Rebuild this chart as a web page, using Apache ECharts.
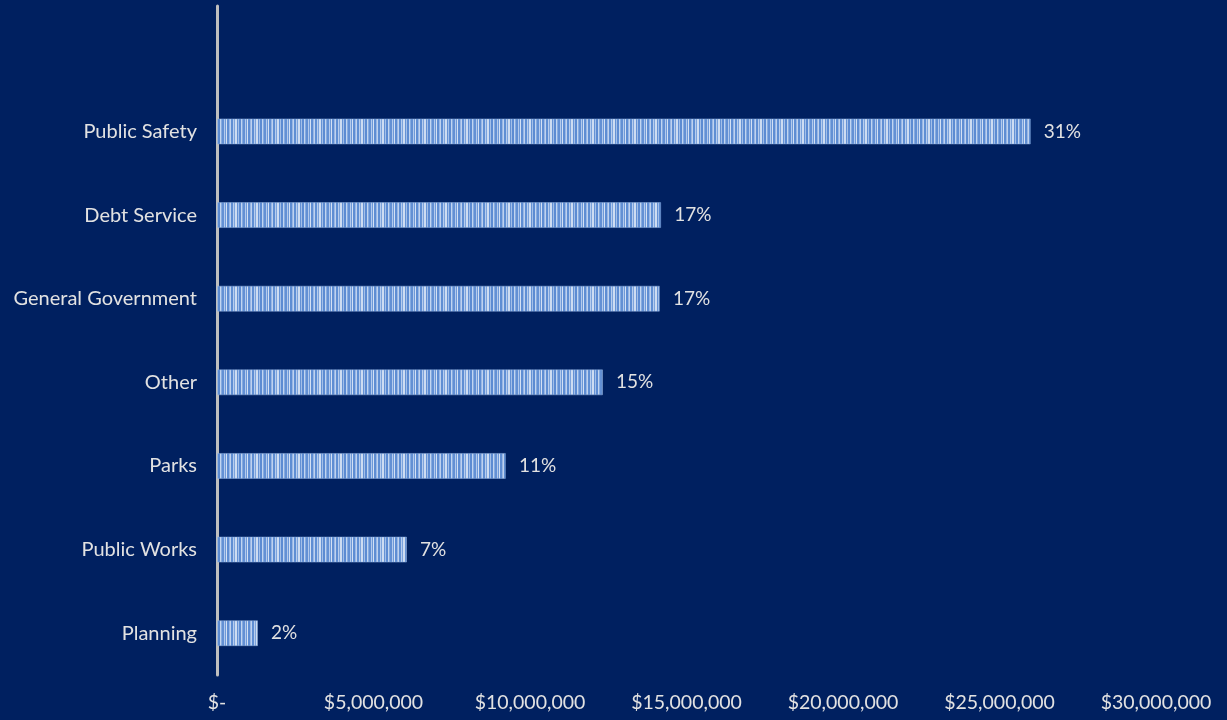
<!DOCTYPE html>
<html>
<head>
<meta charset="utf-8">
<script src="https://cdn.jsdelivr.net/npm/echarts@6/dist/echarts.min.js"></script>
<style>
  html, body { margin: 0; padding: 0; background: #002060; }
  #chart { width: 1227px; height: 720px; }
</style>
</head>
<body>
<div id="chart"></div>
<script>
// Spending by department (dollars), bottom to top; the blank entry leaves headroom above the top bar
const categories = ['Planning', 'Public Works', 'Parks', 'Other', 'General Government', 'Debt Service', 'Public Safety', ''];
const spending = [1310000, 6070000, 9230000, 12330000, 14150000, 14190000, 26000000, null];
const axisTicks = [0, 5000000, 10000000, 15000000, 20000000, 25000000, 30000000];

const total = spending.reduce((s, v) => s + (v || 0), 0);

// Vertical-stripe fill for the bars
function stripePattern() {
  const shades = ['#5f8ed3', '#b7cdee', '#7ca3dc', '#cddcf2', '#6592d5', '#a3bfe8', '#5c8bd2', '#c2d5f0',
                  '#86abe0', '#6390d4', '#b3caed', '#6e99d8', '#d3e0f4', '#5e8dd3', '#99b7e5', '#bfd2ef'];
  const widths = [2, 1, 1, 2, 1, 1, 2, 1, 1, 2, 1, 1, 1, 2, 1, 1];
  const w = widths.reduce((a, b) => a + b, 0);
  const c = document.createElement('canvas');
  c.width = w; c.height = 26;
  const ctx = c.getContext('2d');
  let x = 0;
  shades.forEach((col, i) => {
    ctx.fillStyle = col;
    ctx.fillRect(x, 0, widths[i], 26);
    x += widths[i];
  });
  return c;
}

function money(v) {
  if (v === 0) return '$-';
  return '$' + v.toLocaleString('en-US');
}

const chart = echarts.init(document.getElementById('chart'));
chart.setOption({
  backgroundColor: '#002060',
  animation: false,
  textStyle: { fontFamily: 'Lato' },
  grid: { left: 217, right: 71, top: 6, bottom: 45, containLabel: false },
  xAxis: {
    type: 'value',
    min: axisTicks[0],
    max: axisTicks[axisTicks.length - 1],
    interval: axisTicks[1] - axisTicks[0],
    axisLine: { show: false },
    axisTick: { show: false },
    splitLine: { show: false },
    axisLabel: {
      color: '#e2e2e2', fontSize: 19.5, margin: 18,
      formatter: money
    }
  },
  yAxis: {
    type: 'category',
    data: categories,
    axisLine: { show: true, lineStyle: { color: '#bfbfbf', width: 3 } },
    axisTick: { show: false },
    axisLabel: { color: '#e2e2e2', fontSize: 20, margin: 20 }
  },
  series: [{
    type: 'bar',
    data: spending,
    barWidth: 26,
    itemStyle: {
      color: { image: stripePattern(), repeat: 'repeat' },
      borderColor: 'rgba(140,175,225,0.5)',
      borderWidth: 1
    },
    label: {
      show: true,
      position: 'right',
      distance: 13,
      color: '#e2e2e2',
      fontSize: 19,
      fontFamily: 'Lato',
      formatter: p => p.value == null ? '' : Math.round(p.value / total * 100) + '%'
    }
  }]
});
</script>
</body>
</html>
